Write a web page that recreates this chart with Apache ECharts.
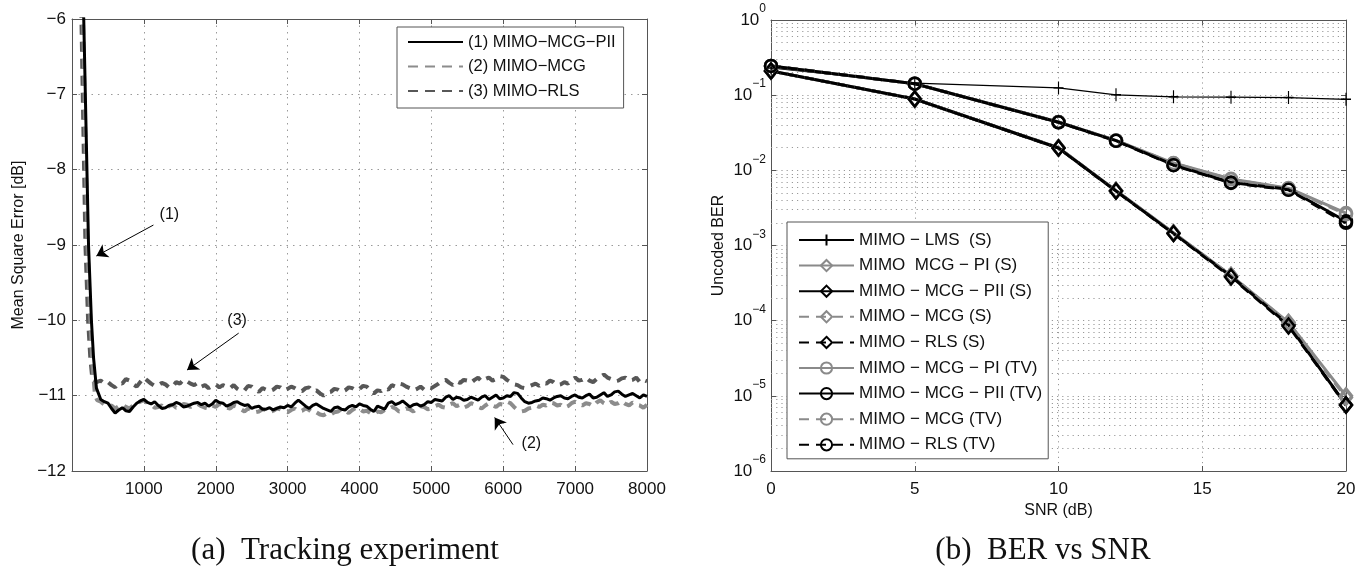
<!DOCTYPE html>
<html>
<head>
<meta charset="utf-8">
<script src="https://cdn.jsdelivr.net/npm/echarts@6/dist/echarts.min.js"></script>
<style>
html,body{margin:0;padding:0;background:#fff;}
#chart{width:1369px;height:566px;}
</style>
</head>
<body>
<div id="chart"></div>
<script>
// ---------- (a) Tracking experiment ----------
const leftNames = ['(1) MIMO\u2212MCG\u2212PII', '(2) MIMO\u2212MCG', '(3) MIMO\u2212RLS'];
// initial convergence (iterations, dB)
const drop1X = [150, 230, 270, 300, 340];
const drop1Y = [-5.4, -9.0, -10.0, -10.5, -10.9];
const drop2X = [140, 215, 255, 285, 320, 350];
const drop2Y = [-5.4, -9.0, -10.0, -10.6, -11.0, -11.06];
const drop3X = [120, 187, 224, 255, 285, 340];
const drop3Y = [-5.4, -9.0, -10.0, -10.5, -10.8, -10.82];
// steady-state sampling grid (iterations)
const iterGrid = [
  400,450,500,550,600,650,700,750,800,850,900,950,
  1000,1050,1100,1150,1200,1250,1300,1350,1400,1450,1500,1550,1600,1650,1700,1750,1800,1850,1900,1950,
  2000,2050,2100,2150,2200,2250,2300,2350,2400,2450,2500,2550,2600,2650,2700,2750,2800,2850,2900,2950,
  3000,3050,3100,3150,3200,3250,3300,3350,3400,3450,3500,3550,3600,3650,3700,3750,3800,3850,3900,3950,
  4000,4050,4100,4150,4200,4250,4300,4350,4400,4450,4500,4550,4600,4650,4700,4750,4800,4850,4900,4950,
  5000,5050,5100,5150,5200,5250,5300,5350,5400,5450,5500,5550,5600,5650,5700,5750,5800,5850,5900,5950,
  6000,6050,6100,6150,6200,6250,6300,6350,6400,6450,6500,6550,6600,6650,6700,6750,6800,6850,6900,6950,
  7000,7050,7100,7150,7200,7250,7300,7350,7400,7450,7500,7550,7600,7650,7700,7750,7800,7850,7900,7950,
  8000];
const mse1 = [
  -11.05,-11.08,-11.10,-11.17,-11.23,-11.19,-11.16,-11.20,-11.21,-11.15,-11.10,-11.07,
  -11.05,-11.09,-11.11,-11.08,-11.13,-11.17,-11.16,-11.13,-11.12,-11.09,-11.11,-11.15,-11.14,-11.12,-11.10,-11.09,-11.12,-11.10,-11.14,-11.11,
  -11.06,-11.09,-11.10,-11.14,-11.12,-11.09,-11.08,-11.11,-11.13,-11.12,-11.17,-11.15,-11.14,-11.18,-11.18,-11.16,-11.19,-11.17,-11.15,-11.16,
  -11.13,-11.15,-11.10,-11.06,-11.10,-11.14,-11.17,-11.13,-11.11,-11.14,-11.17,-11.19,-11.21,-11.16,-11.15,-11.18,-11.19,-11.15,-11.13,-11.15,
  -11.11,-11.13,-11.14,-11.18,-11.21,-11.14,-11.16,-11.18,-11.10,-11.08,-11.12,-11.10,-11.07,-11.11,-11.15,-11.12,-11.11,-11.14,-11.12,-11.08,
  -11.09,-11.05,-11.06,-11.07,-11.02,-11.00,-11.05,-11.02,-11.03,-11.06,-11.05,-11.02,-11.04,-11.06,-11.02,-11.00,-11.05,-11.02,-10.99,-11.04,
  -11.03,-11.00,-11.01,-10.96,-10.97,-11.03,-11.08,-11.10,-11.09,-11.07,-11.06,-11.03,-11.04,-11.06,-11.03,-11.01,-11.00,-11.03,-11.04,-11.01,
  -10.99,-11.02,-11.03,-11.00,-10.98,-11.03,-11.02,-10.99,-10.96,-11.01,-10.99,-10.95,-10.94,-10.98,-11.01,-10.99,-10.97,-11.00,-11.03,-10.99,
  -11.01];
const mse2 = [
  -11.08,-11.12,-11.15,-11.13,-11.17,-11.14,-11.12,-11.15,-11.17,-11.13,-11.10,-11.08,
  -11.06,-11.10,-11.12,-11.16,-11.15,-11.13,-11.17,-11.14,-11.12,-11.16,-11.15,-11.11,-11.12,-11.15,-11.13,-11.11,-11.14,-11.16,-11.17,-11.13,
  -11.15,-11.11,-11.12,-11.16,-11.17,-11.13,-11.15,-11.18,-11.21,-11.17,-11.19,-11.22,-11.21,-11.18,-11.19,-11.22,-11.20,-11.17,-11.18,-11.21,
  -11.22,-11.19,-11.17,-11.21,-11.20,-11.17,-11.19,-11.23,-11.22,-11.25,-11.26,-11.23,-11.25,-11.22,-11.21,-11.18,-11.20,-11.23,-11.19,-11.16,
  -11.17,-11.21,-11.20,-11.23,-11.25,-11.21,-11.22,-11.19,-11.19,-11.15,-11.17,-11.21,-11.20,-11.17,-11.18,-11.21,-11.17,-11.14,-11.15,-11.18,
  -11.17,-11.14,-11.12,-11.15,-11.16,-11.12,-11.10,-11.14,-11.12,-11.16,-11.14,-11.10,-11.12,-11.15,-11.17,-11.13,-11.10,-11.13,-11.15,-11.11,
  -11.12,-11.08,-11.10,-11.15,-11.19,-11.21,-11.20,-11.17,-11.16,-11.13,-11.15,-11.12,-11.13,-11.09,-11.10,-11.13,-11.12,-11.16,-11.14,-11.10,
  -11.08,-11.11,-11.13,-11.10,-11.11,-11.14,-11.09,-11.06,-11.10,-11.12,-11.08,-11.11,-11.10,-11.07,-11.11,-11.13,-11.09,-11.12,-11.13,-11.16,
  -11.12];
const mse3 = [
  -10.80,-10.84,-10.82,-10.86,-10.89,-10.83,-10.84,-10.78,-10.80,-10.85,-10.88,-10.82,
  -10.76,-10.80,-10.84,-10.87,-10.86,-10.83,-10.85,-10.89,-10.88,-10.82,-10.84,-10.79,-10.81,-10.84,-10.86,-10.83,-10.88,-10.86,-10.90,-10.87,
  -10.85,-10.89,-10.86,-10.88,-10.90,-10.86,-10.91,-10.94,-10.93,-10.87,-10.88,-10.92,-10.95,-10.90,-10.92,-10.94,-10.92,-10.88,-10.89,-10.93,
  -10.91,-10.88,-10.90,-10.93,-10.94,-10.90,-10.89,-10.94,-10.93,-10.97,-11.00,-10.96,-10.95,-10.91,-10.92,-10.95,-10.93,-10.89,-10.90,-10.93,
  -10.91,-10.87,-10.88,-10.93,-10.97,-10.93,-10.94,-10.90,-10.92,-10.86,-10.88,-10.84,-10.85,-10.88,-10.90,-10.93,-10.91,-10.88,-10.92,-10.89,
  -10.90,-10.87,-10.84,-10.80,-10.79,-10.83,-10.86,-10.81,-10.83,-10.79,-10.80,-10.83,-10.79,-10.76,-10.81,-10.78,-10.76,-10.80,-10.78,-10.74,
  -10.75,-10.79,-10.82,-10.85,-10.86,-10.89,-10.90,-10.88,-10.86,-10.84,-10.87,-10.83,-10.84,-10.80,-10.82,-10.86,-10.85,-10.82,-10.84,-10.79,
  -10.76,-10.80,-10.79,-10.76,-10.80,-10.82,-10.78,-10.75,-10.72,-10.76,-10.78,-10.81,-10.80,-10.77,-10.76,-10.80,-10.79,-10.76,-10.82,-10.79,
  -10.81];
const leftYTicks = [-12, -11, -10, -9, -8, -7, -6];
// annotations: label position and arrow [from, to] in (iteration, dB)
const annotLabels = ['(1)', '(3)', '(2)'];
const annotText = [[1355, -8.60], [2297, -10.0], [6391, -11.63]];
const annotFrom = [[1133, -8.735], [2319, -10.17], [6136, -11.65]];
const annotTo = [[339, -9.146], [1601, -10.66], [5881, -11.29]];

// ---------- (b) BER vs SNR ----------
const rightNames = ['MIMO \u2212 LMS  (S)', 'MIMO  MCG \u2212 PI (S)', 'MIMO \u2212 MCG \u2212 PII (S)', 'MIMO \u2212 MCG (S)', 'MIMO \u2212 RLS (S)', 'MIMO \u2212 MCG \u2212 PI (TV)', 'MIMO \u2212 MCG \u2212 PII (TV)', 'MIMO \u2212 MCG (TV)', 'MIMO \u2212 RLS (TV)'];
const snr = [0, 5, 10, 12, 14, 16, 18, 20];
const berLMS_S = [0.23, 0.145, 0.125, 0.101, 0.095, 0.094, 0.093, 0.088];
const berPI_S = [0.21, 0.089, 0.0200, 0.0054, 0.00148, 0.00040, 0.000095, 0.0000100];
const berPII_S = [0.21, 0.089, 0.0198, 0.0053, 0.00145, 0.00039, 0.000088, 0.0000076];
const berMCG_S = [0.21, 0.089, 0.0200, 0.0054, 0.00147, 0.00040, 0.000093, 0.0000095];
const berRLS_S = [0.21, 0.089, 0.0198, 0.0053, 0.00144, 0.00038, 0.000085, 0.0000075];
const berPI_TV = [0.245, 0.142, 0.0440, 0.0250, 0.0125, 0.0077, 0.0058, 0.0027];
const berPII_TV = [0.245, 0.142, 0.0436, 0.0248, 0.0118, 0.0069, 0.0056, 0.0021];
const berMCG_TV = [0.245, 0.142, 0.0440, 0.0250, 0.0124, 0.0076, 0.0057, 0.0026];
const berRLS_TV = [0.245, 0.142, 0.0436, 0.0247, 0.0117, 0.0068, 0.0055, 0.0020];
const snrTicks = [0, 5, 10, 15, 20];
const berDecades = [1e-6, 1e-5, 1e-4, 1e-3, 1e-2, 1e-1, 1];
const minorMultipliers = [2, 3, 4, 5, 6, 7, 8, 9];

// ---------- build ----------
const SANS = '"Liberation Sans", Arial, sans-serif';
const SERIF = '31px "Liberation Serif", "Times New Roman", serif';
const pairs = (xs, ys) => xs.map((x, i) => [x, ys[i]]);
const minus = v => (v < 0 ? '\u2212' + Math.abs(v) : String(v));

const chart = echarts.init(document.getElementById('chart'), null, {renderer: 'canvas'});

const boxColor = '#555';
const lGrid = {left: 72, top: 19, width: 575, height: 452};
const rGrid = {left: 771, top: 20, width: 575, height: 451};

const dottedLeft = {show: true, lineStyle: {color: '#9a9a9a', width: 1, type: [1.5, 5]}};
const dottedRight = {color: '#9a9a9a', width: 1, type: [1.2, 4]};

const minorLines = [];
berDecades.slice(0, -1).forEach(d => minorMultipliers.forEach(m => {
  minorLines.push({coords: [[snrTicks[0], d * m], [snrTicks[snrTicks.length - 1], d * m]]});
}));

function expLabel(v) {
  const e = Math.round(Math.log10(v));
  return '{b|10}{s|' + minus(e) + '}';
}

const thick = 3;

function berSeries(name, data, color, dashed, symbol) {
  return {
    name: name, type: 'line', xAxisIndex: 2, yAxisIndex: 2,
    data: pairs(snr, data),
    symbol: symbol, symbolSize: symbol === 'circle' ? 12 : [12, 15],
    showSymbol: true,
    lineStyle: {color: color, width: thick, type: dashed ? [10, 7] : 'solid'},
    itemStyle: {color: 'rgba(255,255,255,0)', borderColor: color, borderWidth: 2.5},
    emphasis: {disabled: true}, animation: false, z: 3
  };
}

const axisBase = {
  axisLine: {show: true, onZero: false, lineStyle: {color: boxColor, width: 1}},
  axisTick: {show: true, inside: true, length: 5, lineStyle: {color: boxColor}}
};

const option = {
  backgroundColor: '#fff',
  animation: false,
  textStyle: {fontFamily: SANS},
  grid: [
    {left: lGrid.left, top: lGrid.top, width: lGrid.width, height: lGrid.height, containLabel: false},
    {left: rGrid.left, top: rGrid.top, width: rGrid.width, height: rGrid.height, containLabel: false}
  ],
  legend: [
    {
      data: leftNames, left: 397, top: 27, orient: 'vertical',
      itemWidth: 55, itemHeight: 14, itemGap: 6.5,
      padding: [6, 8, 8, 10], borderColor: boxColor, borderWidth: 1, backgroundColor: '#fff',
      itemStyle: {opacity: 0},
      textStyle: {fontSize: 16.5, fontFamily: SANS, color: '#111', lineHeight: 18},
      selectedMode: false
    },
    {
      data: rightNames, left: 787, top: 222, orient: 'vertical',
      itemWidth: 55, itemHeight: 14, itemGap: 7.6,
      padding: [9, 6, 5, 11], borderColor: boxColor, borderWidth: 1, backgroundColor: '#fff',
      textStyle: {fontSize: 17, fontFamily: SANS, color: '#111', lineHeight: 18},
      selectedMode: false
    }
  ],
  xAxis: [
    Object.assign({
      gridIndex: 0, type: 'value', min: 0, max: 8000, interval: 1000, position: 'bottom',
      axisLabel: {fontSize: 17, color: '#111', fontFamily: SANS, margin: 10, formatter: v => (v === 0 ? '' : String(v))},
      splitLine: dottedLeft
    }, axisBase),
    Object.assign({
      gridIndex: 0, type: 'value', min: 0, max: 8000, interval: 1000, position: 'top',
      axisLabel: {show: false}, splitLine: {show: false}
    }, axisBase),
    Object.assign({
      gridIndex: 1, type: 'value', min: snrTicks[0], max: snrTicks[snrTicks.length - 1], interval: 5, position: 'bottom',
      name: 'SNR (dB)', nameLocation: 'middle', nameGap: 25,
      nameTextStyle: {fontSize: 16, color: '#111', fontFamily: SANS},
      axisLabel: {fontSize: 17, color: '#111', fontFamily: SANS, margin: 10},
      splitLine: {show: true, lineStyle: dottedRight}
    }, axisBase),
    Object.assign({
      gridIndex: 1, type: 'value', min: 0, max: 20, interval: 5, position: 'top',
      axisLabel: {show: false}, splitLine: {show: false}
    }, axisBase)
  ],
  yAxis: [
    Object.assign({
      gridIndex: 0, type: 'value', min: leftYTicks[0], max: leftYTicks[leftYTicks.length - 1], interval: 1,
      name: 'Mean Square Error [dB]', nameLocation: 'middle', nameGap: 45,
      nameTextStyle: {fontSize: 16, color: '#111', fontFamily: SANS},
      axisLabel: {fontSize: 17, color: '#111', fontFamily: SANS, margin: 6, formatter: minus},
      splitLine: dottedLeft
    }, axisBase),
    Object.assign({
      gridIndex: 0, type: 'value', min: -12, max: -6, interval: 1, position: 'right',
      axisLabel: {show: false}, splitLine: {show: false}
    }, axisBase),
    Object.assign({
      gridIndex: 1, type: 'log', logBase: 10, min: berDecades[0], max: berDecades[berDecades.length - 1],
      name: 'Uncoded BER', nameLocation: 'middle', nameGap: 44,
      nameTextStyle: {fontSize: 16, color: '#111', fontFamily: SANS},
      axisLabel: {
        margin: 5, color: '#111', fontFamily: SANS, formatter: expLabel,
        rich: {
          b: {fontSize: 17, lineHeight: 34, fontFamily: SANS, color: '#111'},
          s: {fontSize: 12, lineHeight: 16, verticalAlign: 'top', fontFamily: SANS, color: '#111'}
        }
      },
      splitLine: {show: true, lineStyle: dottedRight}
    }, axisBase),
    Object.assign({
      gridIndex: 1, type: 'log', logBase: 10, min: 1e-6, max: 1, position: 'right',
      axisLabel: {show: false}, splitLine: {show: false}
    }, axisBase)
  ],
  graphic: [
    {type: 'text', x: 345, y: 551, style: {text: '(a)  Tracking experiment', font: SERIF, fill: '#111', textAlign: 'center', textVerticalAlign: 'middle'}},
    {type: 'text', x: 1043, y: 551, style: {text: '(b)  BER vs SNR', font: SERIF, fill: '#111', textAlign: 'center', textVerticalAlign: 'middle'}}
  ],
  series: [
    // left: annotations
    {
      name: 'annotations', type: 'line', xAxisIndex: 0, yAxisIndex: 0, data: [],
      markLine: {
        silent: true, animation: false, symbol: ['none', 'arrow'], symbolSize: 11,
        lineStyle: {color: '#000', width: 1, type: 'solid'},
        itemStyle: {color: '#000'},
        label: {show: false},
        data: annotFrom.map((f, i) => [{coord: f}, {coord: annotTo[i]}])
      },
      markPoint: {
        silent: true, animation: false, symbol: 'circle', symbolSize: 1,
        itemStyle: {color: 'rgba(0,0,0,0)'},
        label: {show: true, position: 'inside', formatter: '{b}', fontSize: 16, color: '#111', fontFamily: SANS},
        data: annotText.map((c, i) => ({name: annotLabels[i], coord: c}))
      }
    },
    {
      name: leftNames[2], type: 'line', xAxisIndex: 0, yAxisIndex: 0,
      data: pairs(drop3X, drop3Y).concat(pairs(iterGrid, mse3)),
      symbol: 'none', lineStyle: {color: '#575757', width: 4, type: [10, 7]}, itemStyle: {color: '#575757'},
      clip: true, z: 2
    },
    {
      name: leftNames[1], type: 'line', xAxisIndex: 0, yAxisIndex: 0,
      data: pairs(drop2X, drop2Y).concat(pairs(iterGrid, mse2)),
      symbol: 'none', lineStyle: {color: '#8c8c8c', width: 4, type: [10, 7]}, itemStyle: {color: '#8c8c8c'},
      clip: true, z: 2
    },
    {
      name: leftNames[0], type: 'line', xAxisIndex: 0, yAxisIndex: 0,
      data: pairs(drop1X, drop1Y).concat(pairs(iterGrid, mse1)),
      symbol: 'none', lineStyle: {color: '#000', width: 3}, itemStyle: {color: '#000'},
      clip: true, z: 3
    },
    // right: minor grid (2..9 x each decade)
    {
      name: 'minorGrid', type: 'lines', coordinateSystem: 'cartesian2d', xAxisIndex: 2, yAxisIndex: 2,
      silent: true, animation: false, polyline: false,
      lineStyle: {color: '#9a9a9a', width: 1, type: [1.2, 4], opacity: 1},
      data: minorLines, z: 1
    },
    {
      name: rightNames[0], type: 'line', xAxisIndex: 2, yAxisIndex: 2,
      data: pairs(snr, berLMS_S),
      symbol: 'path://M5,0 L5,10 M0,5 L10,5', symbolSize: [10, 13],
      lineStyle: {color: '#000', width: 1.3},
      itemStyle: {color: 'rgba(0,0,0,0)', borderColor: '#000', borderWidth: 1.3},
      z: 3
    },
    berSeries(rightNames[1], berPI_S, '#8a8a8a', false, 'diamond'),
    berSeries(rightNames[2], berPII_S, '#000', false, 'diamond'),
    berSeries(rightNames[3], berMCG_S, '#8a8a8a', true, 'diamond'),
    berSeries(rightNames[4], berRLS_S, '#000', true, 'diamond'),
    berSeries(rightNames[5], berPI_TV, '#8a8a8a', false, 'circle'),
    berSeries(rightNames[6], berPII_TV, '#000', false, 'circle'),
    berSeries(rightNames[7], berMCG_TV, '#8a8a8a', true, 'circle'),
    berSeries(rightNames[8], berRLS_TV, '#000', true, 'circle')
  ]
};

chart.setOption(option);
</script>
</body>
</html>
